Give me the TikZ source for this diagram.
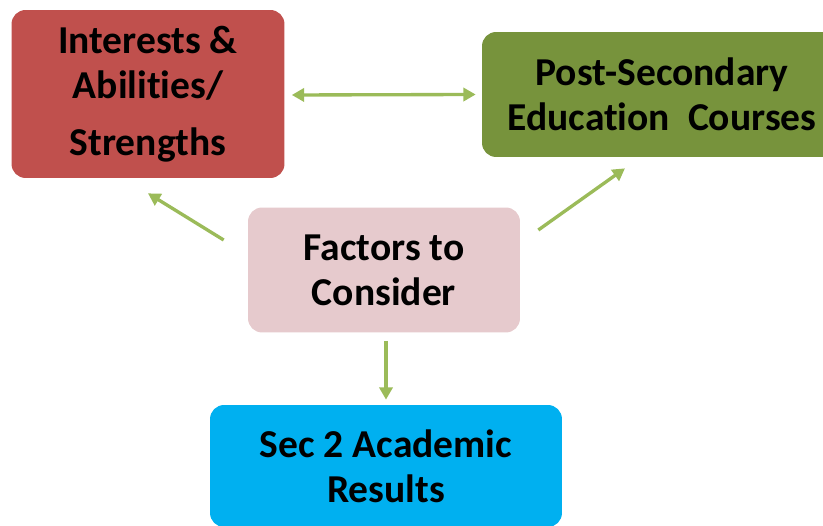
\documentclass[tikz,border=0pt]{standalone}
\usepackage{fontspec}
\setmainfont[Ligatures=NoCommon]{Carlito}
\usetikzlibrary{arrows.meta,positioning}

\definecolor{boxred}{HTML}{C0504D}
\definecolor{boxgreen}{HTML}{77933C}
\definecolor{boxpink}{HTML}{E6CACD}
\definecolor{boxblue}{HTML}{00B0F0}
\definecolor{arrowgreen}{HTML}{9BBB59}

\begin{document}
\begin{tikzpicture}[
    x=0.02cm, y=-0.02cm,
    factor/.style={rectangle, rounded corners=8pt, align=center, inner sep=0pt, font=\fontsize{22.5}{25.5}\selectfont\bfseries},
    arrow/.style={->, line width=1.9pt, draw=arrowgreen, >={Triangle[length=7pt,width=7.5pt]}}
]
\clip (0,0) rectangle (823,526);

% Boxes
\node[factor, fill=boxred, minimum width=5.46cm, minimum height=3.36cm] (interests) at (148,94) {Interests \&\\Abilities/\\[7pt]Strengths};
\node[factor, fill=boxgreen, minimum width=7.2cm, minimum height=2.5cm] (courses) at (662,94.5) {Post-Secondary\\Education\ \ Courses};
\node[factor, fill=boxpink, minimum width=5.44cm, minimum height=2.5cm] (factors) at (384,270) {Factors to\\Consider};
\node[factor, fill=boxblue, minimum width=7.04cm, minimum height=2.44cm] (results) at (386,466) {Sec 2 Academic\\Results};

% Arrows
\draw[arrow, <->] ([shift={(7,1)}]interests.east) -- ([shift={(-6,0)}]courses.west);
\draw[arrow] ([shift={(-24,-30)}]factors.west) -- ([shift={(0,15)}]interests.south);
\draw[arrow] ([shift={(18,-40)}]factors.east) -- ([shift={(-37,11)}]courses.south);
\draw[arrow] ([shift={(2,8)}]factors.south) -- ([shift={(0,-5)}]results.north);

\end{tikzpicture}
\end{document}
